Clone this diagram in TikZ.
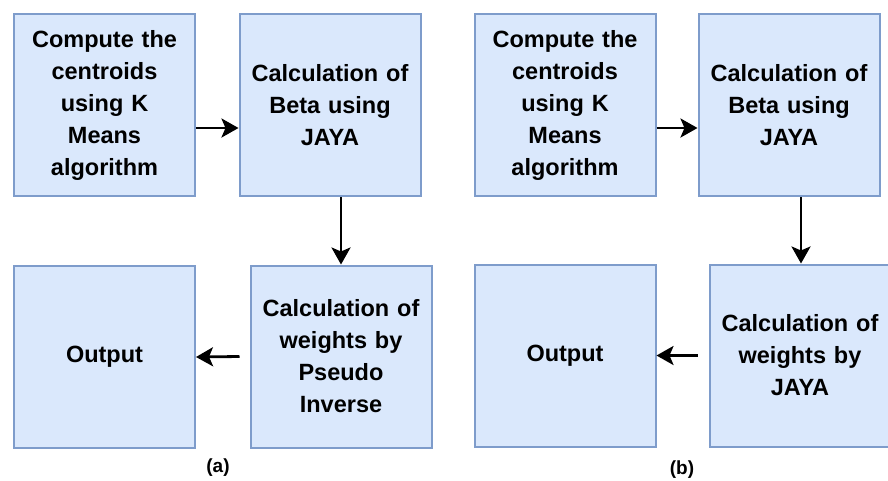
\documentclass[tikz,border=0pt]{standalone}
\usepackage{fontspec}
\setmainfont{Liberation Sans}
\usepackage{xcolor}
\usepackage{tikz}
\usetikzlibrary{positioning}
\usetikzlibrary{arrows.meta}
\definecolor{boxfill}{HTML}{DAE8FC}
\definecolor{boxline}{HTML}{7E9CCB}

\begin{document}
\begin{tikzpicture}[
	x=1pt, y=-1pt,
	font=\fontsize{23.5}{32}\selectfont\bfseries,
  box/.style={rectangle,draw=boxline,fill=boxfill,line width=2pt,
    minimum width=181pt,minimum height=182pt,text width=172pt,
    align=center,inner sep=0pt},
  arr/.style={-{Stealth[length=17pt,width=19pt,inset=4pt]},line width=2.8pt},
  lbl/.style={font=\fontsize{19}{22}\selectfont\bfseries}]
  \useasboundingbox (0,0) rectangle (888,480);
  \clip (0,0) rectangle (888,480);
  % (a)
  \node[box] (cent1) at (104.5,105) {Compute the\\centroids\\using K\\Means\\algorithm};
  \node[box] (beta1) at (330,105) {Calculation of\\Beta using\\JAYA};
  \node[box] (wgt1) at (341,356.5) {Calculation of\\weights by\\Pseudo\\Inverse};
  \node[box] (out1) at (104.5,357) {Output};
  \draw[arr] ([yshift=-23pt]cent1.east) -- ([yshift=-23pt]beta1.west);
  \draw[arr] (beta1.south -| wgt1.north) -- (wgt1.north);
  \draw[arr] ([xshift=-10pt]wgt1.west) -- (out1.east);
  \node[lbl] (capa) at (218,468) {(a)};
  % (b)
  \node[box] (cent2) at (565,105) {Compute the\\centroids\\using K\\Means\\algorithm};
  \node[box] (beta2) at (789,105) {Calculation of\\Beta using\\JAYA};
  \node[box] (wgt2) at (800,355.5) {Calculation of\\weights by\\JAYA};
  \node[box] (out2) at (565,355.5) {Output};
  \draw[arr] ([yshift=-23pt]cent2.east) -- ([yshift=-23pt]beta2.west);
  \draw[arr] ([xshift=12pt]beta2.south) -- ([xshift=1pt]wgt2.north);
  \draw[arr] ([xshift=-11pt]wgt2.west) -- (out2.east);
  \node[lbl] (capb) at (682,470) {(b)};
\end{tikzpicture}
\end{document}
